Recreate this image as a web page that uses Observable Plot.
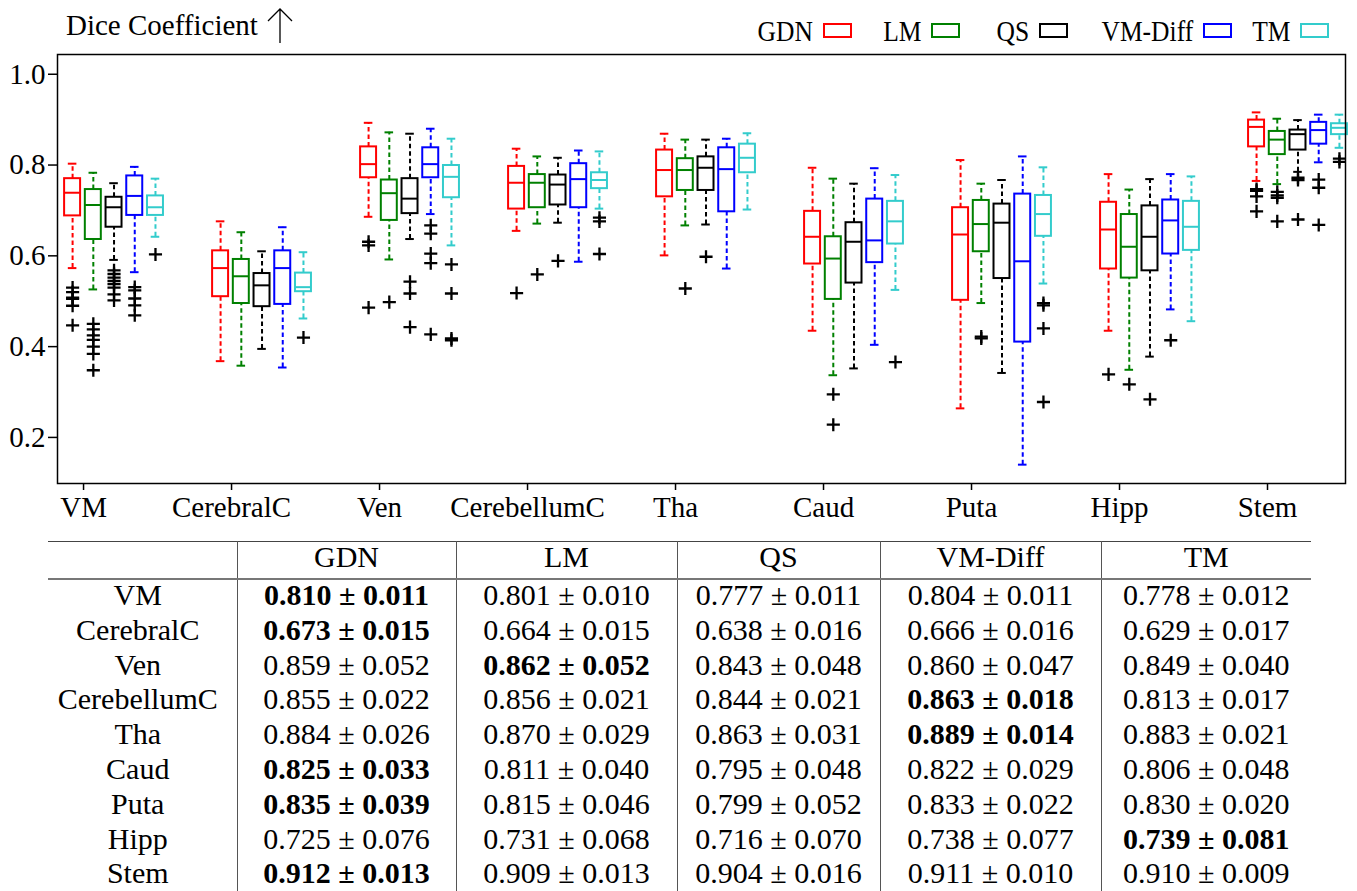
<!DOCTYPE html>
<html><head><meta charset="utf-8">
<script src="https://cdn.jsdelivr.net/npm/d3@7"></script>
<script src="https://cdn.jsdelivr.net/npm/@observablehq/plot@0.6"></script>
<style>
body{margin:0;background:#fff;width:1357px;height:891px;overflow:hidden;font-family:"Liberation Serif",serif;color:#000;}
#header{position:relative;height:52px;width:1357px;}
.title{position:absolute;left:66px;top:11px;font-size:29px;line-height:29px;white-space:nowrap;}
.arrow{position:absolute;left:266px;top:7px;}
.ltext{position:absolute;top:17px;font-size:29px;line-height:29px;white-space:nowrap;transform:scaleX(0.88);transform-origin:right center;text-align:right;}
.lrect{position:absolute;top:23px;width:29px;height:15px;box-sizing:border-box;border:2px solid;}
#chart svg{display:block;}
table{border-collapse:collapse;table-layout:fixed;margin-left:48px;width:1263px;font-size:30px;}
th,td{padding:0;text-align:center;white-space:nowrap;font-weight:normal;}
thead tr{border-top:1.5px solid #444;border-bottom:2.5px solid #777;}
th{line-height:30px;padding-bottom:6px;}
td{line-height:30.8px;padding-bottom:4px;}
td.lab{padding-right:9px;}
.sep{border-left:1.5px solid #555;}
.b{font-weight:bold;}
</style></head><body>
<div id="header"></div>
<div id="chart"></div>
<div id="table"></div>
<script>
const categories = ["VM","CerebralC","Ven","CerebellumC","Tha","Caud","Puta","Hipp","Stem"];
const methods = ["GDN","LM","QS","VM-Diff","TM"];
const colors = ["#ff0000","#008000","#000000","#0000ff","#33cccc"];
const yTicks = [0.2,0.4,0.6,0.8,1.0];

// [lower whisker, q1, median, q3, upper whisker] per category
const gdnStats = [[0.573,0.688,0.739,0.770,0.803],[0.368,0.510,0.573,0.611,0.676],[0.686,0.772,0.802,0.840,0.893],[0.655,0.703,0.761,0.797,0.836],[0.601,0.730,0.789,0.833,0.869],[0.435,0.582,0.642,0.698,0.794],[0.264,0.502,0.647,0.706,0.811],[0.435,0.571,0.658,0.718,0.780],[0.765,0.840,0.884,0.899,0.916]];
const lmStats = [[0.526,0.636,0.712,0.746,0.783],[0.358,0.495,0.555,0.592,0.652],[0.592,0.678,0.738,0.767,0.872],[0.671,0.706,0.761,0.779,0.819],[0.667,0.744,0.789,0.814,0.856],[0.337,0.504,0.594,0.642,0.770],[0.496,0.609,0.670,0.722,0.759],[0.349,0.551,0.620,0.691,0.746],[0.758,0.823,0.856,0.874,0.902]];
const qsStats = [[0.591,0.663,0.707,0.729,0.760],[0.395,0.488,0.535,0.561,0.610],[0.637,0.693,0.726,0.770,0.869],[0.673,0.712,0.757,0.778,0.816],[0.669,0.744,0.794,0.818,0.856],[0.352,0.540,0.631,0.673,0.759],[0.342,0.550,0.673,0.714,0.767],[0.378,0.567,0.642,0.710,0.769],[0.785,0.833,0.868,0.877,0.899]];
const vmdStats = [[0.564,0.689,0.732,0.776,0.796],[0.354,0.493,0.573,0.611,0.663],[0.692,0.772,0.802,0.838,0.880],[0.587,0.706,0.769,0.803,0.832],[0.572,0.697,0.791,0.838,0.858],[0.404,0.585,0.634,0.725,0.793],[0.140,0.410,0.588,0.736,0.819],[0.482,0.604,0.678,0.723,0.780],[0.806,0.846,0.877,0.894,0.911]];
const tmStats = [[0.642,0.689,0.707,0.732,0.770],[0.462,0.521,0.531,0.562,0.608],[0.623,0.728,0.774,0.799,0.858],[0.704,0.748,0.767,0.783,0.830],[0.702,0.783,0.816,0.846,0.870],[0.525,0.626,0.676,0.720,0.778],[0.539,0.643,0.692,0.733,0.795],[0.456,0.612,0.664,0.720,0.775],[0.838,0.867,0.882,0.891,0.911]];

const gdnOut = [[0.530,0.520,0.508,0.505,0.490,0.447],[],[0.631,0.623,0.486],[0.518],[],[],[],[0.339],[0.747,0.743,0.731,0.698]];
const lmOut = [[0.450,0.438,0.425,0.415,0.400,0.384,0.348],[],[0.498],[0.559],[0.528],[0.295,0.228],[0.422,0.418],[0.317],[0.741,0.733,0.728,0.676]];
const qsOut = [[0.568,0.560,0.552,0.545,0.538,0.530,0.515,0.502],[],[0.543,0.517,0.443],[0.589],[0.598],[],[],[0.284],[0.772,0.767,0.680]];
const vmdOut = [[0.531,0.524,0.506,0.491,0.469],[],[0.667,0.649,0.605,0.584,0.427],[],[],[],[],[0.414],[0.768,0.750,0.668]];
const tmOut = [[0.603],[0.420],[0.581,0.517,0.418,0.414],[0.684,0.676,0.604],[],[0.366],[0.496,0.491,0.440,0.278],[],[0.814,0.807]];

// table
const tableGDN = ["0.810 ± 0.011","0.673 ± 0.015","0.859 ± 0.052","0.855 ± 0.022","0.884 ± 0.026","0.825 ± 0.033","0.835 ± 0.039","0.725 ± 0.076","0.912 ± 0.013"];
const tableLM = ["0.801 ± 0.010","0.664 ± 0.015","0.862 ± 0.052","0.856 ± 0.021","0.870 ± 0.029","0.811 ± 0.040","0.815 ± 0.046","0.731 ± 0.068","0.909 ± 0.013"];
const tableQS = ["0.777 ± 0.011","0.638 ± 0.016","0.843 ± 0.048","0.844 ± 0.021","0.863 ± 0.031","0.795 ± 0.048","0.799 ± 0.052","0.716 ± 0.070","0.904 ± 0.016"];
const tableVMD = ["0.804 ± 0.011","0.666 ± 0.016","0.860 ± 0.047","0.863 ± 0.018","0.889 ± 0.014","0.822 ± 0.029","0.833 ± 0.022","0.738 ± 0.077","0.911 ± 0.010"];
const tableTM = ["0.778 ± 0.012","0.629 ± 0.017","0.849 ± 0.040","0.813 ± 0.017","0.883 ± 0.021","0.806 ± 0.048","0.830 ± 0.020","0.739 ± 0.081","0.910 ± 0.009"];
const bestMethod = ["GDN","GDN","LM","VM-Diff","VM-Diff","GDN","GDN","TM","GDN"];

const allStats = [gdnStats, lmStats, qsStats, vmdStats, tmStats];
const allOut = [gdnOut, lmOut, qsOut, vmdOut, tmOut];
const allTable = [tableGDN, tableLM, tableQS, tableVMD, tableTM];

const offset = j => -0.074 + 0.14 * j;
const boxes = [], outs = [];
methods.forEach((m, j) => {
  allStats[j].forEach((s, i) => boxes.push({method: m, x: i + offset(j), lo: s[0], q1: s[1], med: s[2], q3: s[3], hi: s[4]}));
  allOut[j].forEach((arr, i) => arr.forEach(v => outs.push({method: m, x: i + offset(j), v})));
});
const hw = 0.054, cw = 0.029;

// header
const header = document.getElementById("header");
header.innerHTML = `<span class="title">Dice Coefficient</span>
<svg class="arrow" width="30" height="38" viewBox="0 0 30 38"><path d="M14 36 V2 M2 14 L14 2 L26 14" fill="none" stroke="#000" stroke-width="1.3"/></svg>`;
const rectLeft = [823, 931, 1039, 1203, 1300];
methods.forEach((m, j) => {
  const t = document.createElement("span");
  t.className = "ltext"; t.textContent = m;
  t.style.right = (1357 - rectLeft[j] + 10) + "px";
  header.appendChild(t);
  const r = document.createElement("span");
  r.className = "lrect"; r.style.left = rectLeft[j] + "px"; r.style.borderColor = colors[j];
  header.appendChild(r);
});

const chart = Plot.plot({
  width: 1357, height: 489,
  marginLeft: 57, marginRight: 12, marginTop: 2, marginBottom: 58,
  style: {fontFamily: "Liberation Serif", fontSize: "29px", color: "black", background: "white", overflow: "visible"},
  x: {domain: [-0.176, 8.527]},
  y: {domain: [0.0985, 1.0435]},
  color: {domain: methods, range: colors},
  marks: [
    Plot.axisX({ticks: d3.range(categories.length), tickFormat: i => categories[i], tickSize: 7, tickPadding: 6, label: null, strokeWidth: 1.5, fontSize: 29}),
    Plot.axisY({ticks: yTicks, tickFormat: d3.format(".1f"), tickSize: 9, tickPadding: 3, label: null, strokeWidth: 1.5, fontSize: 29}),
    Plot.ruleX(boxes, {x: "x", y1: "q3", y2: "hi", stroke: "method", strokeWidth: 2, strokeDasharray: "4.5,3"}),
    Plot.ruleX(boxes, {x: "x", y1: "lo", y2: "q1", stroke: "method", strokeWidth: 2, strokeDasharray: "4.5,3"}),
    Plot.ruleY(boxes, {y: "hi", x1: d => d.x - cw, x2: d => d.x + cw, stroke: "method", strokeWidth: 2}),
    Plot.ruleY(boxes, {y: "lo", x1: d => d.x - cw, x2: d => d.x + cw, stroke: "method", strokeWidth: 2}),
    Plot.rect(boxes, {x1: d => d.x - hw, x2: d => d.x + hw, y1: "q1", y2: "q3", stroke: "method", fill: "none", strokeWidth: 2}),
    Plot.ruleY(boxes, {y: "med", x1: d => d.x - hw, x2: d => d.x + hw, stroke: "method", strokeWidth: 2}),
    Plot.dot(outs, {x: "x", y: "v", symbol: "plus", r: 4.3, stroke: "black", strokeWidth: 2.3}),
    Plot.frame({stroke: "black", strokeWidth: 1.5})
  ]
});
document.getElementById("chart").appendChild(chart);

// table
const colW = [189, 219, 221, 203, 221, 210];
let html = "<table><colgroup>" + colW.map(w => `<col style="width:${w}px">`).join("") + "</colgroup>";
html += "<thead><tr><th></th>" + methods.map(m => `<th class="sep">${m}</th>`).join("") + "</tr></thead><tbody>";
categories.forEach((c, i) => {
  html += `<tr><td class="lab">${c}</td>` + methods.map((m, j) => `<td class="sep${bestMethod[i] === m ? " b" : ""}">${allTable[j][i]}</td>`).join("") + "</tr>";
});
html += "</tbody></table>";
document.getElementById("table").innerHTML = html;
</script>
</body></html>
